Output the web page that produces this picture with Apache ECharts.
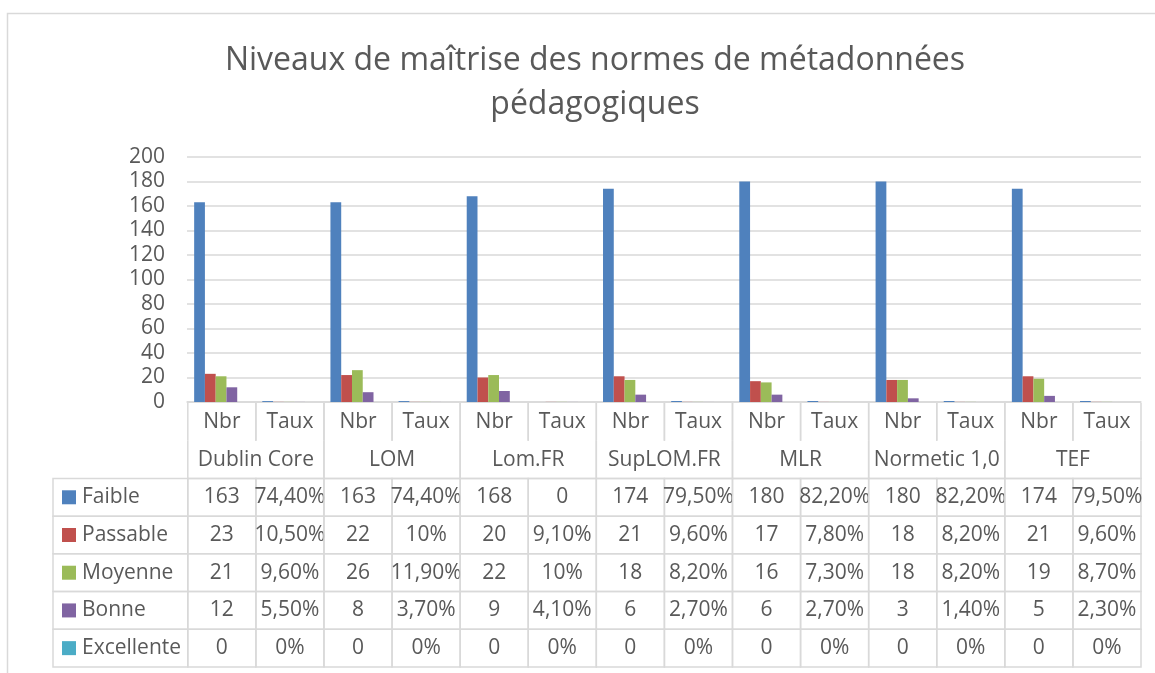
<!DOCTYPE html>
<html>
<head>
<meta charset="utf-8">
<script src="https://cdn.jsdelivr.net/npm/echarts@6/dist/echarts.min.js"></script>
<style>
  html, body { margin: 0; padding: 0; background: #fff; }
  #chart { width: 1155px; height: 673px; }
</style>
</head>
<body>
<div id="chart"></div>
<script>
// Metadata standards and the two measures shown for each
const groups = ['Dublin Core', 'LOM', 'Lom.FR', 'SupLOM.FR', 'MLR', 'Normetic 1,0', 'TEF'];
const subColumns = ['Nbr', 'Taux'];
const levels = ['Faible', 'Passable', 'Moyenne', 'Bonne', 'Excellente'];
const levelColors = ['#4f81bd', '#c0504d', '#9bbb59', '#8064a2', '#4bacc6'];

// Counts (Nbr) per level, one entry per standard
const nbrFaible     = [163, 163, 168, 174, 180, 180, 174];
const nbrPassable   = [23, 22, 20, 21, 17, 18, 21];
const nbrMoyenne    = [21, 26, 22, 18, 16, 18, 19];
const nbrBonne      = [12, 8, 9, 6, 6, 3, 5];
const nbrExcellente = [0, 0, 0, 0, 0, 0, 0];

// Rates (Taux) per level, as written in the data table
const tauxFaible     = ['74,40%', '74,40%', '0', '79,50%', '82,20%', '82,20%', '79,50%'];
const tauxPassable   = ['10,50%', '10%', '9,10%', '9,60%', '7,80%', '8,20%', '9,60%'];
const tauxMoyenne    = ['9,60%', '11,90%', '10%', '8,20%', '7,30%', '8,20%', '8,70%'];
const tauxBonne      = ['5,50%', '3,70%', '4,10%', '2,70%', '2,70%', '1,40%', '2,30%'];
const tauxExcellente = ['0%', '0%', '0%', '0%', '0%', '0%', '0%'];

// Value axis ticks
const yMin = 0, yMax = 200, yStep = 20;

const nbrByLevel = [nbrFaible, nbrPassable, nbrMoyenne, nbrBonne, nbrExcellente];
const tauxByLevel = [tauxFaible, tauxPassable, tauxMoyenne, tauxBonne, tauxExcellente];

// "74,40%" -> 0.744 ; "0" -> 0
function parseTaux(s) {
  const pct = s.indexOf('%') >= 0;
  const v = parseFloat(s.replace('%', '').replace(',', '.'));
  return pct ? v / 100 : v;
}

// Flat category list: Nbr / Taux for each standard
const categories = [];
groups.forEach(g => subColumns.forEach(s => categories.push(g + ' ' + s)));

const TEXT = '#595959';
const LINE = '#d9d9d9';
const FONT = '"Open Sans", "DejaVu Sans", sans-serif';
const FS = 21;

// Bar series: Nbr column uses the count, Taux column uses the rate
const barSeries = levels.map((name, li) => {
  const data = [];
  groups.forEach((g, gi) => {
    data.push(nbrByLevel[li][gi]);
    data.push(parseTaux(tauxByLevel[li][gi]));
  });
  return {
    name, type: 'bar', xAxisIndex: 0, yAxisIndex: 0,
    data,
    barGap: '0%', barCategoryGap: '21%',
    itemStyle: { color: levelColors[li] },
    silent: true
  };
});

// Data table laid out in column units (one unit per category) and row units
const LEGEND_COL = 1.98;   // width of the label column, in category widths
const ROWS = 2 + levels.length;
const cells = [];
groups.forEach((g, gi) => {
  subColumns.forEach((s, si) => {
    const c = gi * 2 + si;
    cells.push({ x0: c, x1: c + 1, row: 0, text: s, border: 'sides' });
  });
  cells.push({ x0: gi * 2, x1: gi * 2 + 2, row: 1, text: g, border: 'sidesBottom' });
});
levels.forEach((lv, li) => {
  const row = 2 + li;
  cells.push({ x0: -LEGEND_COL, x1: 0, row, text: lv, border: 'box', swatch: levelColors[li] });
  groups.forEach((g, gi) => {
    cells.push({ x0: gi * 2, x1: gi * 2 + 1, row, text: String(nbrByLevel[li][gi]), border: 'box' });
    cells.push({ x0: gi * 2 + 1, x1: gi * 2 + 2, row, text: tauxByLevel[li][gi], border: 'box' });
  });
});

function renderCell(params, api) {
  const c = cells[params.dataIndex];
  const p0 = api.coord([c.x0, c.row]);
  const p1 = api.coord([c.x1, c.row + 1]);
  const x = p0[0], y = p0[1], w = p1[0] - p0[0], h = p1[1] - p0[1];
  const lineStyle = { stroke: LINE, lineWidth: 1.5, fill: null };
  const children = [];
  if (c.border === 'box') {
    children.push({ type: 'rect', shape: { x, y, width: w, height: h }, style: Object.assign({}, lineStyle) });
  } else if (c.border === 'sides') {
    children.push({ type: 'line', shape: { x1: x, y1: y, x2: x, y2: y + h }, style: Object.assign({}, lineStyle) });
    children.push({ type: 'line', shape: { x1: x + w, y1: y, x2: x + w, y2: y + h }, style: Object.assign({}, lineStyle) });
  } else {
    children.push({ type: 'polyline', shape: { points: [[x, y], [x, y + h], [x + w, y + h], [x + w, y]] }, style: Object.assign({}, lineStyle) });
  }
  if (c.swatch) {
    children.push({ type: 'rect', shape: { x: x + 9, y: y + h / 2 - 7, width: 14, height: 14 }, style: { fill: c.swatch } });
    children.push({ type: 'text', style: { text: c.text, x: x + 29, y: y + h / 2, align: 'left', verticalAlign: 'middle', fill: TEXT, fontSize: FS, fontFamily: FONT } });
  } else {
    children.push({ type: 'text', style: { text: c.text, x: x + w / 2, y: y + h / 2, align: 'center', verticalAlign: 'middle', fill: TEXT, fontSize: FS, fontFamily: FONT } });
  }
  return { type: 'group', children };
}

const chart = echarts.init(document.getElementById('chart'), null, { renderer: 'canvas' });
chart.setOption({
  animation: false,
  backgroundColor: '#fff',
  title: {
    text: 'Niveaux de maîtrise des normes de métadonnées\npédagogiques',
    left: 590, top: 34, textAlign: 'center',
    textStyle: { color: TEXT, fontSize: 32, fontWeight: 'normal', fontFamily: FONT, lineHeight: 44 }
  },
  graphic: [{
    type: 'rect', silent: true, z: -10,
    shape: { x: 7.5, y: 13.5, width: 1180, height: 700 },
    style: { fill: null, stroke: LINE, lineWidth: 1.5 }
  }],
  grid: [
    { left: 187, right: 14, top: 157, height: 245 },
    { left: 53, right: 14, top: 403, height: 264 }
  ],
  xAxis: [
    {
      type: 'category', gridIndex: 0, data: categories,
      axisLabel: { show: false }, axisTick: { show: false },
      axisLine: { lineStyle: { color: LINE, width: 1.5 } }
    },
    { type: 'value', gridIndex: 1, min: -LEGEND_COL, max: categories.length, show: false }
  ],
  yAxis: [
    {
      type: 'value', gridIndex: 0, min: yMin, max: yMax, interval: yStep,
      axisLine: { show: false }, axisTick: { show: false },
      axisLabel: { color: TEXT, fontSize: FS, fontFamily: FONT, margin: 22 },
      splitLine: { lineStyle: { color: LINE, width: 1.5 } }
    },
    { type: 'value', gridIndex: 1, min: 0, max: ROWS, inverse: true, show: false }
  ],
  series: barSeries.concat([{
    type: 'custom', xAxisIndex: 1, yAxisIndex: 1, silent: true,
    clip: false,
    renderItem: renderCell,
    encode: { x: [0, 1], y: 2 },
    data: cells.map(c => [c.x0, c.x1, c.row])
  }])
});
</script>
</body>
</html>
